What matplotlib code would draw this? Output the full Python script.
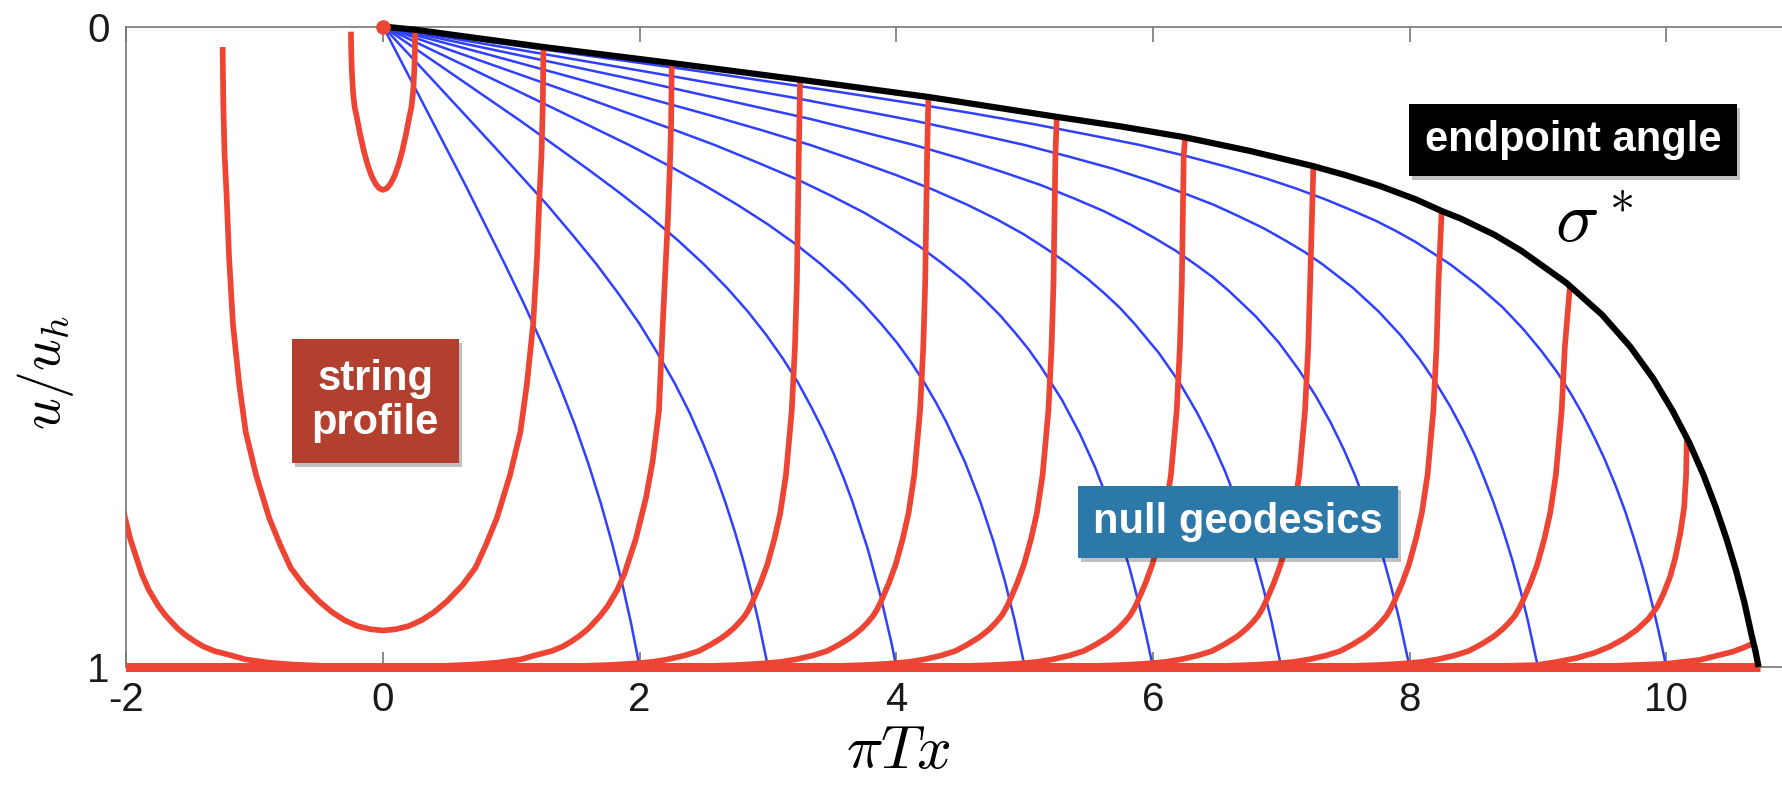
import numpy as np
import matplotlib

matplotlib.use("Agg")
import matplotlib.pyplot as plt
import matplotlib.patheffects as pe
from matplotlib.patches import Rectangle
from matplotlib.transforms import Bbox, TransformedBbox

plt.rcParams["font.family"] = ["Liberation Sans", "DejaVu Sans"]
plt.rcParams["mathtext.fontset"] = "cm"
plt.rcParams["axes.unicode_minus"] = False

# --- null geodesics (x = pi T x, u = u/u_h), one per horizon crossing x = 2..10
geo2_x = [0, 0.322, 0.643, 0.954, 1.103, 1.243, 1.373, 1.493, 1.601, 1.698, 1.785, 1.863, 1.932, 1.994, 2.0]
geo2_u = [0, 0.124, 0.248, 0.373, 0.435, 0.497, 0.559, 0.621, 0.683, 0.745, 0.807, 0.869, 0.931, 0.994, 1.0]
geo3_x = [0, 0.431, 0.860, 1.277, 1.475, 1.663, 1.838, 1.998, 2.142, 2.273, 2.389, 2.492, 2.585, 2.668,
          2.742, 2.809, 2.870, 2.925, 3.0]
geo3_u = [0, 0.093, 0.186, 0.278, 0.325, 0.371, 0.418, 0.464, 0.511, 0.557, 0.603, 0.650, 0.696, 0.743,
          0.789, 0.835, 0.882, 0.928, 1.0]
geo4_x = [0, 0.539, 1.076, 1.598, 1.846, 2.081, 2.299, 2.499, 2.680, 2.843, 2.988, 3.118, 3.234, 3.337,
          3.430, 3.514, 3.590, 3.658, 3.778, 3.878, 3.964, 4.0]
geo4_u = [0, 0.074, 0.148, 0.223, 0.260, 0.297, 0.334, 0.371, 0.408, 0.445, 0.482, 0.519, 0.556, 0.594,
          0.631, 0.668, 0.705, 0.742, 0.816, 0.890, 0.964, 1.0]
geo5_x = [0, 0.647, 1.291, 1.918, 2.215, 2.497, 2.759, 3.000, 3.217, 3.412, 3.587, 3.742, 3.881, 4.006,
          4.118, 4.218, 4.309, 4.391, 4.535, 4.655, 4.757, 4.845, 4.922, 4.989, 5.0]
geo5_u = [0, 0.062, 0.124, 0.185, 0.216, 0.247, 0.278, 0.309, 0.340, 0.371, 0.402, 0.433, 0.464, 0.494,
          0.525, 0.556, 0.587, 0.618, 0.680, 0.742, 0.804, 0.865, 0.927, 0.989, 1.0]
geo6_x = [0, 0.755, 1.506, 2.237, 2.585, 2.914, 3.220, 3.500, 3.753, 3.981, 4.185, 4.366, 4.529, 4.674,
          4.804, 4.921, 5.027, 5.123, 5.291, 5.431, 5.551, 5.653, 5.743, 5.821, 5.890, 5.951, 6.0]
geo6_u = [0, 0.053, 0.106, 0.159, 0.185, 0.212, 0.238, 0.265, 0.291, 0.318, 0.344, 0.371, 0.397, 0.424,
          0.450, 0.477, 0.503, 0.530, 0.583, 0.636, 0.689, 0.742, 0.795, 0.848, 0.901, 0.954, 1.0]
geo7_x = [0, 0.863, 1.721, 2.557, 2.954, 3.330, 3.680, 4.000, 4.290, 4.550, 4.783, 4.990, 5.176, 5.342,
          5.491, 5.624, 5.746, 5.856, 6.047, 6.207, 6.344, 6.461, 6.563, 6.653, 6.732, 6.802, 6.865,
          6.922, 7.0]
geo7_u = [0, 0.046, 0.093, 0.139, 0.162, 0.185, 0.209, 0.232, 0.255, 0.278, 0.301, 0.324, 0.348, 0.371,
          0.394, 0.417, 0.440, 0.464, 0.510, 0.556, 0.603, 0.649, 0.695, 0.742, 0.788, 0.834, 0.881,
          0.927, 1.0]
geo8_x = [0, 0.971, 1.937, 2.877, 3.323, 3.746, 4.140, 4.500, 4.826, 5.119, 5.381, 5.614, 5.823, 6.010,
          6.177, 6.328, 6.464, 6.588, 6.803, 6.983, 7.137, 7.269, 7.384, 7.484, 7.573, 7.652, 7.723,
          7.787, 7.858, 7.921, 8.0]
geo8_u = [0, 0.041, 0.082, 0.124, 0.144, 0.165, 0.185, 0.206, 0.227, 0.247, 0.268, 0.288, 0.309, 0.330,
          0.350, 0.371, 0.391, 0.412, 0.453, 0.494, 0.536, 0.577, 0.618, 0.659, 0.700, 0.742, 0.783,
          0.824, 0.876, 0.927, 1.0]
geo9_x = [0, 1.079, 2.152, 3.196, 3.693, 4.163, 4.600, 5.000, 5.362, 5.688, 5.979, 6.238, 6.470, 6.677,
          6.863, 7.031, 7.182, 7.320, 7.559, 7.759, 7.930, 8.077, 8.204, 8.316, 8.415, 8.503, 8.581,
          8.652, 8.731, 8.802, 8.865, 8.921, 9.0]
geo9_u = [0, 0.037, 0.074, 0.111, 0.130, 0.148, 0.167, 0.185, 0.204, 0.222, 0.241, 0.260, 0.278, 0.297,
          0.315, 0.334, 0.352, 0.371, 0.408, 0.445, 0.482, 0.519, 0.556, 0.593, 0.630, 0.667, 0.705,
          0.742, 0.788, 0.834, 0.881, 0.927, 1.0]
geo10_x = [0, 1.186, 2.367, 3.516, 4.062, 4.579, 5.060, 5.500, 5.899, 6.256, 6.576, 6.862, 7.117, 7.345,
           7.550, 7.734, 7.901, 8.052, 8.315, 8.535, 8.723, 8.884, 9.025, 9.148, 9.256, 9.353, 9.439,
           9.517, 9.604, 9.682, 9.751, 9.814, 9.870, 9.921, 9.968, 10.0]
geo10_u = [0, 0.034, 0.067, 0.101, 0.118, 0.135, 0.152, 0.169, 0.185, 0.202, 0.219, 0.236, 0.253, 0.270,
           0.287, 0.303, 0.320, 0.337, 0.371, 0.405, 0.438, 0.472, 0.506, 0.539, 0.573, 0.607, 0.641,
           0.674, 0.716, 0.758, 0.801, 0.843, 0.885, 0.927, 0.969, 1.0]

# --- endpoint trajectory (black)
end_x = [0, 0.25, 1.25, 2.25, 3.25, 4.25, 5.25, 5.75, 6.25, 6.75, 7.25, 7.5, 7.77, 8.05, 8.25, 8.40,
         8.66, 8.87, 9.22, 9.50, 9.72, 9.90, 10.05, 10.18, 10.29, 10.385, 10.47, 10.545, 10.61,
         10.665, 10.695, 10.72]
end_u = [0, 0.005, 0.032, 0.057, 0.083, 0.110, 0.141, 0.156, 0.173, 0.194, 0.218, 0.232, 0.249, 0.27,
         0.288, 0.30, 0.325, 0.35, 0.40, 0.45, 0.50, 0.55, 0.60, 0.65, 0.70, 0.75, 0.80, 0.85, 0.90,
         0.95, 0.975, 1.0]

# --- string profiles (red)
# early symmetric profiles: right half, from the tip down to the bottom at x = 0
profA_x = [0.25, 0.248, 0.243, 0.235, 0.222, 0.205, 0.18, 0.15, 0.12, 0.09, 0.06, 0.03, 0.0]
profA_u = [0.008, 0.04, 0.07, 0.10, 0.125, 0.141, 0.167, 0.194, 0.216, 0.233, 0.245, 0.2526, 0.255]
profB_x = [1.25, 1.245, 1.235, 1.22, 1.20, 1.17, 1.12, 1.07, 0.99, 0.886, 0.80, 0.72, 0.62, 0.50,
           0.40, 0.30, 0.20, 0.10, 0.0]
profB_u = [0.032, 0.12, 0.20, 0.26, 0.36, 0.464, 0.56, 0.633, 0.70, 0.768, 0.81, 0.845, 0.872, 0.897,
           0.914, 0.927, 0.936, 0.941, 0.943]
profC_x = [2.25, 2.245, 2.235, 2.22, 2.20, 2.18, 2.15, 2.10, 2.05, 1.97, 1.88, 1.825, 1.75, 1.693,
           1.60, 1.54, 1.468, 1.40, 1.315, 1.18, 1.075, 0.90, 0.718, 0.50, 0.266, 0.0]
profC_u = [0.057, 0.15, 0.22, 0.30, 0.38, 0.464, 0.60, 0.68, 0.735, 0.80, 0.855, 0.88, 0.905, 0.92,
           0.94, 0.95, 0.96, 0.968, 0.975, 0.982, 0.988, 0.993, 0.996, 0.998, 0.999, 1.0]
# later profiles: tip positions and common trailing shape (offset from tip)
tip_x = [3.25, 4.25, 5.25, 6.25, 7.25, 8.25, 9.25]
tip_u = [0.083, 0.110, 0.141, 0.174, 0.219, 0.288, 0.404]
trail_u = [0.0, 0.2, 0.4, 0.5, 0.6, 0.7, 0.76, 0.80, 0.84, 0.87, 0.90, 0.91, 0.92, 0.93, 0.94, 0.95,
           0.955, 0.965, 0.975, 0.982, 0.988, 0.992, 0.995, 0.997, 0.9985, 0.9995, 1.0]
trail_dx = [0.0, -0.01, -0.025, -0.04, -0.065, -0.11, -0.155, -0.20, -0.255, -0.31, -0.375, -0.40,
            -0.43, -0.472, -0.52, -0.58, -0.615, -0.696, -0.79, -0.90, -1.03, -1.15, -1.32, -1.50,
            -1.72, -2.08, -2.6]
profK_x = [10.16, 10.155, 10.14, 10.11, 10.07, 10.03, 9.98, 9.93, 9.86, 9.77, 9.67, 9.56, 9.44, 9.30,
           9.15, 8.99, 8.6, 8.0]
profK_u = [0.645, 0.70, 0.75, 0.791, 0.83, 0.859, 0.885, 0.906, 0.925, 0.942, 0.956, 0.968, 0.978,
           0.986, 0.992, 0.997, 0.999, 1.0]
profL_x = [10.68, 10.60, 10.52, 10.26, 10.0, 9.5, 9.0]
profL_u = [0.963, 0.970, 0.976, 0.989, 0.995, 0.999, 1.0]
# final profile: lying on the horizon up to where the endpoint lands
profF_x = [-3.0, 10.73]
profF_u = [1.0, 1.0]

src_x = [0.0]
src_u = [0.0]

x_ticks = [-2, 0, 2, 4, 6, 8, 10]
u_ticks = [0, 1]

RED = "#EE4433"
BLUE = "#3040FF"
XMIN, XMAX = -2.0, 10.91

fig = plt.figure(figsize=(17.83, 7.85), dpi=100)
ax = fig.add_axes([0.0709, 0.1503, 0.9291, 0.8159])
# clip at the x-limits only, so lines on u = 0 or u = 1 keep their full width
clip = TransformedBbox(Bbox([[0, -0.03], [1, 1.03]]), ax.transAxes)


def draw(x, u, **kw):
    line, = ax.plot(x, u, **kw)
    line.set_clip_box(clip)
    return line


geos = [(geo2_x, geo2_u), (geo3_x, geo3_u), (geo4_x, geo4_u), (geo5_x, geo5_u),
        (geo6_x, geo6_u), (geo7_x, geo7_u), (geo8_x, geo8_u), (geo9_x, geo9_u),
        (geo10_x, geo10_u)]
for gx, gu in geos:
    draw(gx, gu, color=BLUE, lw=1.8, zorder=2)

red_kw = dict(color=RED, lw=4.1, zorder=3, solid_capstyle="butt", solid_joinstyle="round")
for hx, hu in [(profA_x, profA_u), (profB_x, profB_u), (profC_x, profC_u)]:
    hx = np.array(hx)
    hu = np.array(hu)
    draw(np.r_[-hx, hx[::-1]], np.r_[hu, hu[::-1]], **red_kw)
tu = np.array(trail_u)
tdx = np.array(trail_dx)
for xk, uk in zip(tip_x, tip_u):
    keep = tu > uk + 0.01
    draw(np.r_[xk, xk + tdx[keep], XMIN - 1], np.r_[uk, tu[keep], 1.0], **red_kw)
draw(np.r_[profK_x, XMIN - 1], np.r_[profK_u, 1.0], **red_kw)
draw(np.r_[profL_x, XMIN - 1], np.r_[profL_u, 1.0], **red_kw)
draw(profF_x, profF_u, color=RED, lw=6.5, zorder=3, solid_capstyle="butt")

draw(end_x, end_u, color="black", lw=4.5, zorder=4, solid_capstyle="butt",
     solid_joinstyle="round")
draw(src_x, src_u, marker="o", ls="none", color=RED, ms=9.5, zorder=8)

ax.set_xlim(XMIN, XMAX)
ax.set_ylim(1, 0)
ax.set_xticks(x_ticks)
ax.set_xticklabels([str(t) for t in x_ticks])
ax.set_yticks(u_ticks)
ax.set_yticklabels([str(t) for t in u_ticks])
for side in ["left", "top", "bottom"]:
    ax.spines[side].set_color("#777777")
    ax.spines[side].set_linewidth(1.2)
ax.spines["right"].set_visible(False)
ax.tick_params(axis="x", direction="in", top=True, length=11, width=1.2, color="#777777",
               labelsize=29, pad=10, labelcolor="#1a1a1a")
ax.tick_params(axis="y", direction="in", length=0, labelsize=29, pad=12, labelcolor="#1a1a1a")

fig.text(0.5036, 0.042, r"$\pi T x$", fontsize=44, ha="center", va="center")
fig.text(0.0255, 0.525, r"$u/u_h$", fontsize=40, rotation=90, ha="center", va="center")
ax.text(0.886, 0.692, r"$\sigma^*$", transform=ax.transAxes, fontsize=52,
        ha="center", va="center", zorder=7)


def label_box(x0, y0, x1, y1, color, text):
    rect = Rectangle((x0, y0), x1 - x0, y1 - y0, transform=ax.transAxes, facecolor=color,
                     edgecolor="none", zorder=6, clip_on=False,
                     path_effects=[pe.SimplePatchShadow(offset=(2, -3), shadow_rgbFace="k",
                                                        alpha=0.25), pe.Normal()])
    ax.add_patch(rect)
    ax.text((x0 + x1) / 2, (y0 + y1) / 2, text, transform=ax.transAxes, color="white",
            fontsize=30, fontweight="bold", ha="center", va="center", zorder=7,
            linespacing=1.15)


label_box(0.7744, 0.7666, 0.9721, 0.8790, "#000000", "endpoint angle")
label_box(0.5746, 0.1697, 0.7678, 0.2826, "#2C78A8", "null geodesics")
label_box(0.0998, 0.3190, 0.2008, 0.5121, "#B3402F", "string\nprofile")

fig.savefig("out.png", dpi=100)
